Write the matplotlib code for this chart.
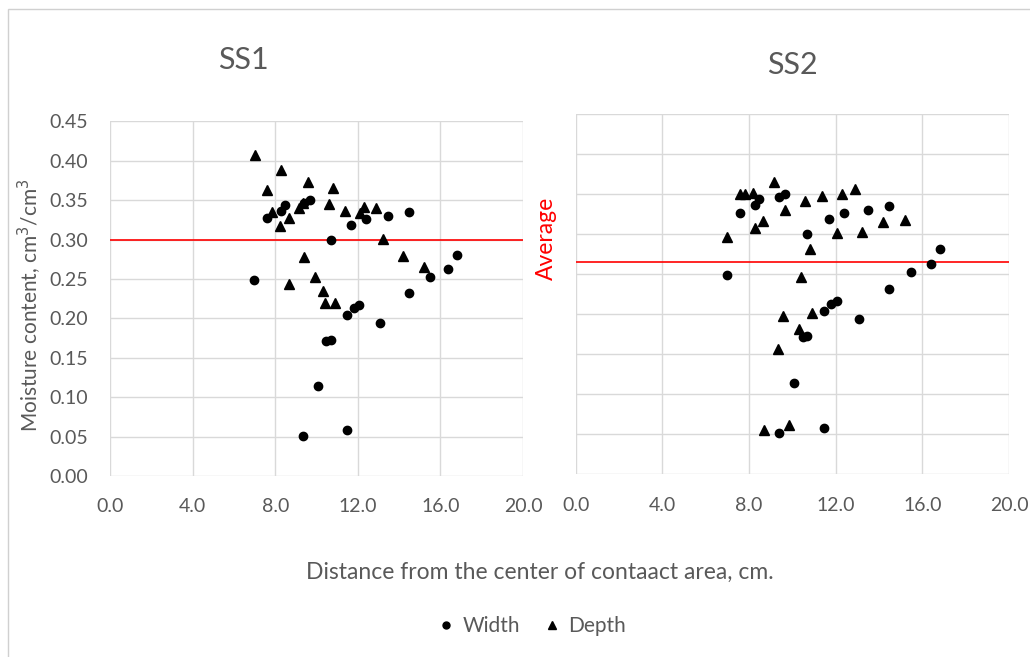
import matplotlib.pyplot as plt
from matplotlib.lines import Line2D
from matplotlib.patches import Rectangle

# width traverse (same readings used for both sections)
width_x = [6.99, 7.6, 8.29, 8.48, 9.37, 9.68, 11.68, 12.38, 13.48, 14.48, 10.68, 16.8,
           16.39, 15.48, 14.48, 12.08, 11.8, 11.48, 13.06, 10.48, 10.68, 10.08, 9.36, 11.48]
width_y = [0.249, 0.327, 0.337, 0.344, 0.346, 0.350, 0.319, 0.326, 0.330, 0.335, 0.300, 0.281,
           0.263, 0.253, 0.232, 0.217, 0.213, 0.204, 0.194, 0.171, 0.173, 0.114, 0.051, 0.058]

# depth traverse, SS1
ss1_depth_x = [7.0, 8.29, 9.61, 7.6, 10.79, 9.34, 9.17, 7.84, 8.69, 8.21, 10.62, 11.38,
               12.31, 12.1, 12.9, 13.2, 9.4, 14.2, 9.93, 8.69, 15.2, 10.3, 10.42, 10.91]
ss1_depth_y = [0.407, 0.389, 0.373, 0.363, 0.366, 0.347, 0.340, 0.335, 0.327, 0.317, 0.345, 0.337,
               0.342, 0.334, 0.340, 0.301, 0.278, 0.279, 0.253, 0.244, 0.265, 0.235, 0.219, 0.220]

# depth traverse, SS2
ss2_depth_x = [6.97, 7.58, 7.81, 8.17, 8.29, 8.66, 9.15, 9.66, 10.58, 11.38, 12.27, 12.88,
               14.2, 15.18, 12.07, 13.2, 10.8, 10.4, 10.89, 9.58, 10.29, 9.35, 8.69, 9.86]
ss2_depth_y = [0.296, 0.350, 0.350, 0.352, 0.308, 0.316, 0.365, 0.330, 0.342, 0.348, 0.350, 0.357,
               0.315, 0.318, 0.302, 0.303, 0.282, 0.246, 0.201, 0.198, 0.181, 0.156, 0.055, 0.061]

ss1_avg = 0.300
ss2_avg = 0.265

x_ticks = [0, 4, 8, 12, 16, 20]
y_ticks = [0.00, 0.05, 0.10, 0.15, 0.20, 0.25, 0.30, 0.35, 0.40, 0.45]

TXT = '#595959'
GRID = '#d9d9d9'
plt.rcParams['font.family'] = ['Lato', 'DejaVu Sans']

fig = plt.figure(figsize=(10.3, 6.57), dpi=100)
fig.patches.append(Rectangle((8 / 1030, -0.1), 1.2, 1.1 - 9 / 657, transform=fig.transFigure,
                             fill=False, edgecolor='#d0d0d0', lw=1.0))

ax1 = fig.add_axes([0.1068, 0.2755, 0.401, 0.5396])
ax2 = fig.add_axes([0.559, 0.2781, 0.4206, 0.548])

panels = [(ax1, ss1_depth_x, ss1_depth_y, ss1_avg, 'SS1'),
          (ax2, ss2_depth_x, ss2_depth_y, ss2_avg, 'SS2')]

for ax, dx, dy, avg, name in panels:
    ax.set_xlim(0, 20)
    ax.set_ylim(0, 0.45)
    ax.set_xticks(x_ticks)
    ax.set_yticks(y_ticks)
    ax.grid(True, color=GRID, lw=1.0)
    ax.set_axisbelow(True)
    for s in ax.spines.values():
        s.set_visible(False)
    ax.tick_params(length=0, labelsize=14, labelcolor=TXT, pad=16)
    ax.set_xticklabels([f'{t:.1f}' for t in x_ticks])
    ax.axhline(avg, color='#ff0000', lw=1.2, zorder=2)
    ax.plot(width_x, width_y, 'o', color='black', ms=6, zorder=3, clip_on=False)
    ax.plot(dx, dy, '^', color='black', ms=6.5, zorder=3, clip_on=False)

ax1.set_yticklabels([f'{t:.2f}' for t in y_ticks])
ax2.set_yticklabels([])
ax2.tick_params(axis='y', pad=0)

fig.text(243 / 1030, 1 - 60 / 657, 'SS1', fontsize=22, color=TXT, ha='center', va='center')
fig.text(792 / 1030, 1 - 65 / 657, 'SS2', fontsize=22, color=TXT, ha='center', va='center')
fig.text(30 / 1030, 1 - 305 / 657, 'Moisture content, cm$^3$/cm$^3$', fontsize=15, color=TXT,
         rotation=90, ha='center', va='center')
fig.text(546 / 1030, 1 - 238 / 657, 'Average', fontsize=16.5, color='#ff0000',
         rotation=90, ha='center', va='center')
fig.text(540 / 1030, 1 - 572 / 657, 'Distance from the center of contaact area, cm.',
         fontsize=16.5, color=TXT, ha='center', va='center')

handles = [Line2D([], [], marker='o', ls='none', color='black', ms=5),
           Line2D([], [], marker='^', ls='none', color='black', ms=5.5)]
fig.legend(handles, ['Width', 'Depth'], loc='center', bbox_to_anchor=(531 / 1030, 1 - 626 / 657),
           ncol=2, frameon=False, fontsize=15, labelcolor=TXT, handletextpad=0.3,
           columnspacing=1.0, handlelength=1.0)

fig.savefig('out.png', dpi=100)
